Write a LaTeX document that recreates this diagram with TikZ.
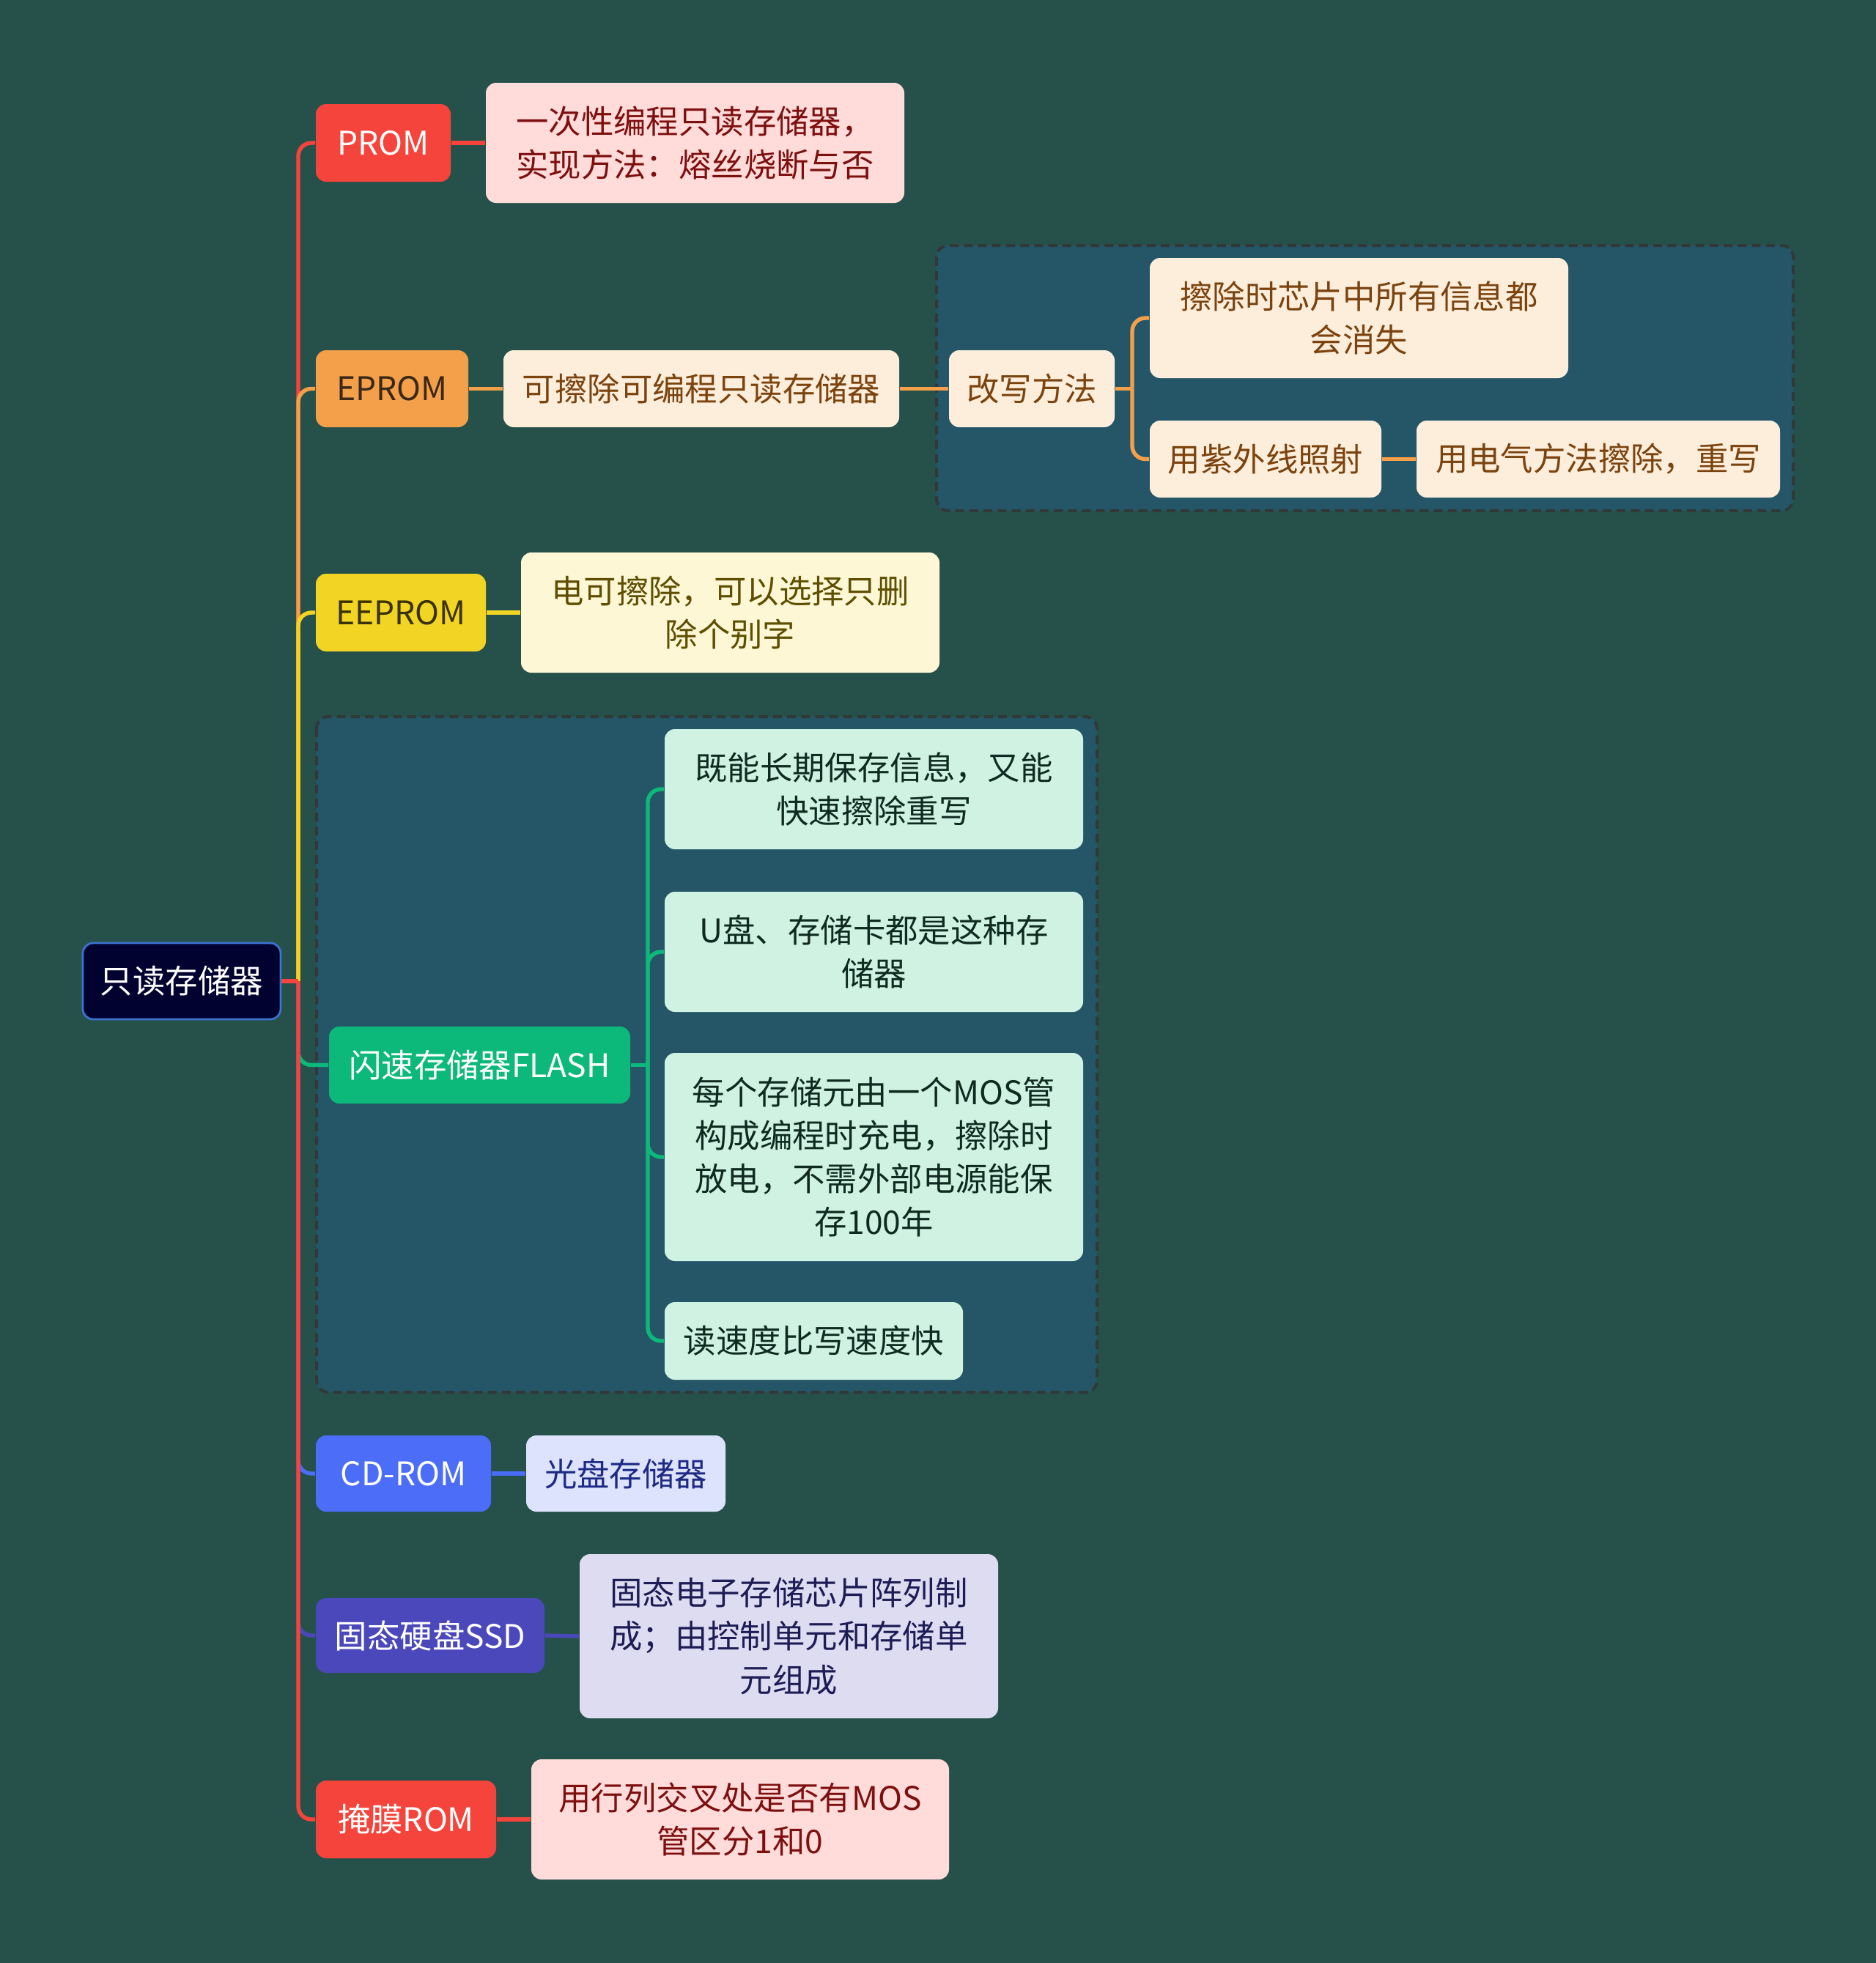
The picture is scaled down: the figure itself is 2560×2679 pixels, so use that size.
\documentclass[tikz,border=0pt]{standalone}
\usepackage{fontspec}
\setmainfont{Noto Sans CJK SC}
\definecolor{bg}{HTML}{26514A}
\definecolor{rootfill}{HTML}{020230}
\definecolor{rootdraw}{HTML}{3B73CF}
\definecolor{cred}{HTML}{F5443B}
\definecolor{pinkfill}{HTML}{FFDCDA}
\definecolor{pinktext}{HTML}{7D0F0F}
\definecolor{corange}{HTML}{F4A04A}
\definecolor{orangetext}{HTML}{3A2818}
\definecolor{creamfill}{HTML}{FDEEDC}
\definecolor{browntext}{HTML}{7B430E}
\definecolor{cyellow}{HTML}{F2D424}
\definecolor{yellowtext}{HTML}{3A3205}
\definecolor{lyellow}{HTML}{FDF7D6}
\definecolor{olivetext}{HTML}{5E4E00}
\definecolor{cgreen}{HTML}{0DB97A}
\definecolor{mint}{HTML}{CFF2E3}
\definecolor{minttext}{HTML}{0F2A20}
\definecolor{cblue}{HTML}{4B6DF8}
\definecolor{lblue}{HTML}{DDE3FC}
\definecolor{bluetext}{HTML}{1E2A85}
\definecolor{cindigo}{HTML}{4A48BA}
\definecolor{lavender}{HTML}{DDDCF1}
\definecolor{indigotext}{HTML}{1E1C55}
\definecolor{grpfill}{HTML}{245668}
\definecolor{grpdraw}{HTML}{303838}
\pgfdeclarelayer{grplayer}
\pgfdeclarelayer{linelayer}
\pgfsetlayers{grplayer,linelayer,main}
\tikzset{
  box/.style={rectangle, rounded corners=3.5pt, align=center, inner sep=0pt,
    font=\fontsize{11.1}{14.8}\selectfont},
  grp/.style={fill=grpfill, draw=grpdraw, dash pattern=on 3pt off 1.8pt, line width=1pt, rounded corners=4pt},
  conn/.style={line width=1.35pt, rounded corners=4.5pt},
}
\begin{document}
\begin{tikzpicture}[x=0.25pt,y=-0.25pt]
\begin{pgfonlayer}{grplayer}
\fill[bg] (0,0) rectangle (2560,2679);
\draw[grp] (1278,335) rectangle (2447,697);
\draw[grp] (432,978) rectangle (1497,1900);
\end{pgfonlayer}
\useasboundingbox (0,0) rectangle (2560,2679);

% nodes
\node[box, fill=rootfill, draw=rootdraw, line width=0.7pt, text=white, minimum width=67.5pt, minimum height=26pt] (root) at (248,1339) {只读存储器};

\node[box, fill=cred, text=white, minimum width=46pt, minimum height=26.5pt] (prom) at (523,195) {PROM};
\node[box, fill=pinkfill, text=pinktext, minimum width=142.75pt, minimum height=41pt] (promd) at (948.5,195) {一次性编程只读存储器，\\实现方法：熔丝烧断与否};

\node[box, fill=corange, text=orangetext, minimum width=52pt, minimum height=26.25pt] (eprom) at (535,530.5) {EPROM};
\node[box, fill=creamfill, text=browntext, minimum width=135pt, minimum height=26.25pt] (epromd) at (957,530.5) {可擦除可编程只读存储器};
\node[box, fill=creamfill, text=browntext, minimum width=56.5pt, minimum height=26.25pt] (gx) at (1408,530.5) {改写方法};
\node[box, fill=creamfill, text=browntext, minimum width=142.75pt, minimum height=41pt] (e1) at (1854.5,434) {擦除时芯片中所有信息都\\会消失};
\node[box, fill=creamfill, text=browntext, minimum width=79pt, minimum height=26.25pt] (e2) at (1727,626.5) {用紫外线照射};
\node[box, fill=creamfill, text=browntext, minimum width=124pt, minimum height=26.25pt] (e3) at (2181,626.5) {用电气方法擦除，重写};

\node[box, fill=cyellow, text=yellowtext, minimum width=58pt, minimum height=26.5pt] (eeprom) at (547,836) {EEPROM};
\node[box, fill=lyellow, text=olivetext, minimum width=142.75pt, minimum height=41pt] (eepromd) at (996.5,836) {电可擦除，可以选择只删\\除个别字};

\node[box, fill=cgreen, text=white, minimum width=102.75pt, minimum height=26.25pt] (flash) at (654.5,1453.5) {闪速存储器FLASH};
\node[box, fill=mint, text=minttext, minimum width=142.75pt, minimum height=41pt] (f1) at (1192.5,1077) {既能长期保存信息，又能\\快速擦除重写};
\node[box, fill=mint, text=minttext, minimum width=142.75pt, minimum height=41pt] (f2) at (1192.5,1299) {U盘、存储卡都是这种存\\储器};
\node[box, fill=mint, text=minttext, minimum width=142.75pt, minimum height=71pt] (f3) at (1192.5,1579) {每个存储元由一个MOS管\\构成编程时充电，擦除时\\放电，不需外部电源能保\\存100年};
\node[box, fill=mint, text=minttext, minimum width=101.75pt, minimum height=26.5pt] (f4) at (1110.5,1830) {读速度比写速度快};

\node[box, fill=cblue, text=white, minimum width=59.75pt, minimum height=26pt] (cd) at (550.5,2011) {CD-ROM};
\node[box, fill=lblue, text=bluetext, minimum width=68pt, minimum height=26pt] (cdd) at (854,2011) {光盘存储器};

\node[box, fill=cindigo, text=white, minimum width=78pt, minimum height=25.5pt] (ssd) at (587,2232) {固态硬盘SSD};
\node[box, fill=lavender, text=indigotext, minimum width=142.75pt, minimum height=56pt] (ssdd) at (1076.5,2233) {固态电子存储芯片阵列制\\成；由控制单元和存储单\\元组成};

\node[box, fill=cred, text=white, minimum width=61.5pt, minimum height=26.5pt] (mrom) at (554,2483) {掩膜ROM};
\node[box, fill=pinkfill, text=pinktext, minimum width=142.5pt, minimum height=41pt] (mromd) at (1010,2483) {用行列交叉处是否有MOS\\管区分1和0};

\coordinate (T) at (407,1339);
\coordinate (T2) at (1545,530.5);
\coordinate (T3) at (884,1453.5);

\begin{pgfonlayer}{linelayer}
% upper branches
\draw[conn, cred] (T) |- (prom.west);
\draw[conn, corange] (T) |- (eprom.west);
\draw[conn, cyellow] (T) |- (eeprom.west);
% lower branches
\draw[conn, cgreen] (T) |- (flash.west);
\draw[conn, cblue] (T) |- (cd.west);
\draw[conn, cindigo] (T) |- (ssd.west);
\draw[conn, cred] (T) |- (mrom.west);
\draw[conn, cred] (root.east) -- (T);
% second level
\draw[conn, cred] (prom.east) -- (promd.west);
\draw[conn, corange] (eprom.east) -- (epromd.west);
\draw[conn, corange] (epromd.east) -- (gx.west);
\draw[conn, corange] (gx.east) -- (T2);
\draw[conn, corange] (T2) |- (e1.west);
\draw[conn, corange] (T2) |- (e2.west);
\draw[conn, corange] (e2.east) -- (e3.west);
\draw[conn, cyellow] (eeprom.east) -- (eepromd.west);
\draw[conn, cgreen] (flash.east) -- (T3);
\draw[conn, cgreen] (T3) |- (f1.west);
\draw[conn, cgreen] (T3) |- (f2.west);
\draw[conn, cgreen] (T3) |- (f3.west);
\draw[conn, cgreen] (T3) |- (f4.west);
\draw[conn, cblue] (cd.east) -- (cdd.west);
\draw[conn, cindigo] (ssd.east) -- (ssdd.west);
\draw[conn, cred] (mrom.east) -- (mromd.west);
\end{pgfonlayer}
\end{tikzpicture}
\end{document}
